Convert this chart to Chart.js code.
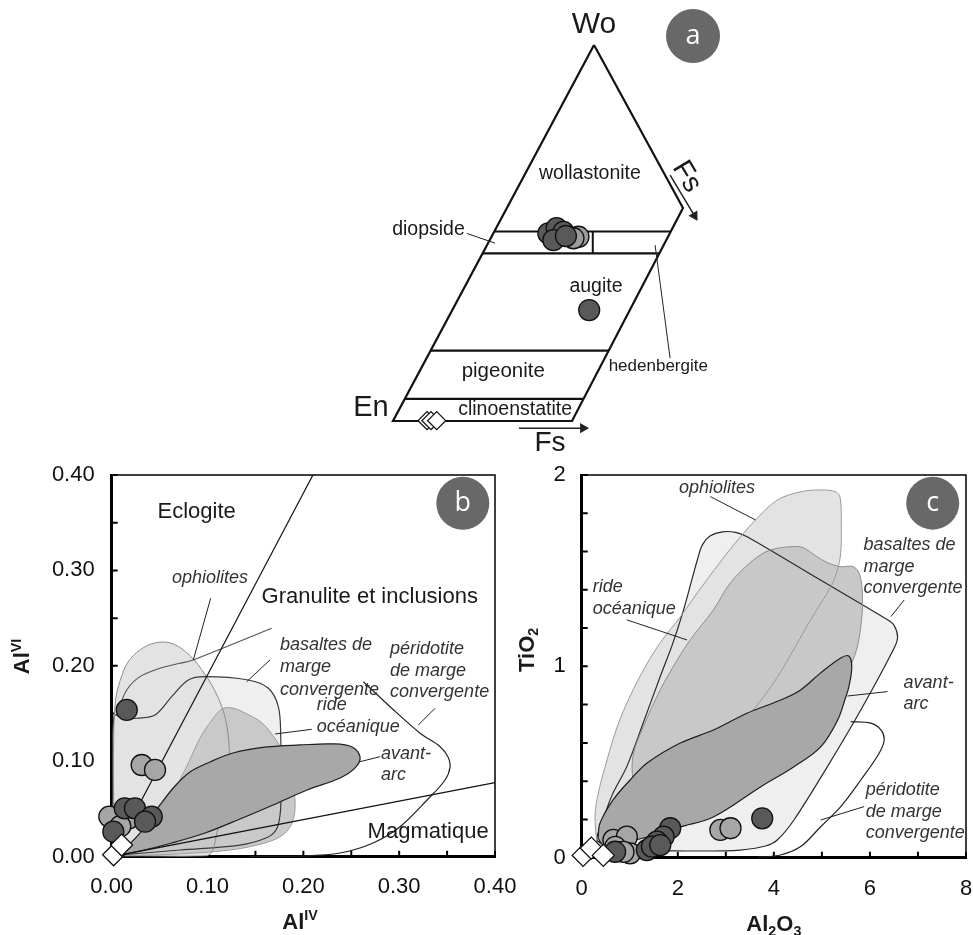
<!DOCTYPE html>
<html>
<head>
<meta charset="utf-8">
<script src="https://cdn.jsdelivr.net/npm/chart.js@4.4.1/dist/chart.umd.min.js"></script>
<style>
  html, body { margin: 0; padding: 0; background: #fff; }
  body { width: 973px; height: 935px; position: relative; overflow: hidden; }
  canvas { position: absolute; }
  #quadChart { left: 300px; top: 0; }
  #alChart { left: 0; top: 440px; }
  #tiChart { left: 510px; top: 440px; }
</style>
</head>
<body>
<canvas id="quadChart" width="460" height="465"></canvas>
<canvas id="alChart" width="520" height="495"></canvas>
<canvas id="tiChart" width="463" height="495"></canvas>
<script>
const FONT = '"Liberation Sans", Arial, Helvetica, sans-serif';
Chart.defaults.font.family = FONT;
Chart.defaults.color = '#111';

// ---------- (a) pyroxene quadrilateral, diagram units (En = 0,0 ; Wo apex at 100)
const quadOutline = [[56.15, 100], [0, 0], [50, 0], [81.0, 56.65], [56.15, 100]];
const boundaryWo = [50.4, 44.6, 18.7, 5.9];
const dividerX = 55.8;
const quadLight = [[51.8, 49.0], [50.4, 48.6]];
const quadDark = [[43.4, 49.9], [45.7, 51.3], [47.6, 50.3], [44.8, 48.1], [48.3, 49.2], [54.8, 29.5]];
const quadDiamonds = [[9.5, 0.1], [10.6, 0.1], [12.2, 0.1]];
const diopsideLeader = [[20.6, 49.9], [28.5, 47.3]];
const hedenbergiteLeader = [[77.4, 16.7], [73.2, 46.8]];
const fsArrowBottom = [[35.2, -1.9], [53.1, -1.9]];
const fsArrowSide = [[77.4, 65.4], [84.2, 54.6]];

// ---------- (b) AlVI vs AlIV
const ophioliteB = [[0.003, 0.001], [0.002, 0.060], [0.002, 0.122], [0.004, 0.164], [0.009, 0.185], [0.017, 0.204],
  [0.030, 0.217], [0.045, 0.224], [0.061, 0.224], [0.077, 0.215], [0.094, 0.196], [0.111, 0.167], [0.120, 0.138],
  [0.123, 0.101], [0.121, 0.065], [0.111, 0.030], [0.0995, 0.001]];
const basalteB = [[0.0014, 0.002], [0.001, 0.080], [0.0024, 0.1475], [0.0139, 0.1451], [0.0264, 0.1451], [0.0452, 0.1485],
  [0.0626, 0.1677], [0.080, 0.1852], [0.0974, 0.1887], [0.1426, 0.1852], [0.1635, 0.1765], [0.1739, 0.1572],
  [0.1764, 0.1258], [0.1767, 0.0699], [0.1757, 0.0437], [0.1715, 0.028], [0.161, 0.0196], [0.134, 0.0122],
  [0.0713, 0.007], [0.0087, 0.002]];
const rideB = [[0.0066, 0.001], [0.0222, 0.0144], [0.0504, 0.0437], [0.0765, 0.0909], [0.0922, 0.1244], [0.1047, 0.1433],
  [0.1151, 0.1548], [0.1256, 0.1559], [0.1391, 0.1506], [0.1569, 0.1401], [0.1715, 0.1223], [0.1809, 0.1045],
  [0.1872, 0.0825], [0.1913, 0.0594], [0.1893, 0.0385], [0.1799, 0.0238], [0.160, 0.0144], [0.1235, 0.007],
  [0.0713, 0.003], [0.019, 0.001]];
const avantArcB = [[0.0066, 0.0017], [0.0295, 0.0248], [0.0504, 0.0542], [0.0661, 0.0741], [0.0817, 0.0888],
  [0.1026, 0.0993], [0.1266, 0.1087], [0.1621, 0.115], [0.1966, 0.1171], [0.231, 0.1182], [0.2509, 0.115],
  [0.2592, 0.1045], [0.254, 0.093], [0.2383, 0.0825], [0.2039, 0.0699], [0.1684, 0.0542], [0.1339, 0.0395],
  [0.0974, 0.0248], [0.0629, 0.0144], [0.0295, 0.006]];
const peridotiteB = [[0.2626, 0.1834], [0.2905, 0.1572], [0.3218, 0.1294], [0.3427, 0.1153], [0.351, 0.1045],
  [0.3531, 0.094], [0.3479, 0.0804], [0.3291, 0.0594], [0.3009, 0.0314], [0.2728, 0.0144], [0.2383, 0.0039],
  [0.1966, 0.0007], [0.1444, 0.0002]];
const innerCurveB = [[0.0052, 0.1503], [0.0157, 0.1747], [0.0295, 0.1887], [0.0504, 0.1975], [0.0713, 0.2027],
  [0.0852, 0.2062], [0.167, 0.2394]];
const eclogiteLine = [[0, 0], [0.21, 0.40]];
const magmatiqueLine = [[0, 0], [0.40, 0.0776]];
const leadersB = [
  [[0.1033, 0.2709], [0.0852, 0.2062]],
  [[0.1652, 0.2062], [0.1409, 0.1834]],
  [[0.2088, 0.1335], [0.1705, 0.1286]],
  [[0.2801, 0.1048], [0.2592, 0.0996]],
  [[0.3375, 0.1556], [0.320, 0.138]]
];
const lightB = [[0.0313, 0.0961], [0.0452, 0.0909], [-0.0025, 0.042], [0.0174, 0.040], [0.009, 0.032]];
const darkB = [[0.0157, 0.1538], [0.0136, 0.0507], [0.0243, 0.0507], [0.0418, 0.042], [0.0348, 0.0367], [0.0017, 0.0262]];
const diamondsB = [[0.002, 0.002], [0.0104, 0.0122]];

// ---------- (c) TiO2 vs Al2O3
const basalteC = [[0.591, 0.056], [0.319, 0.092], [0.382, 0.155], [0.633, 0.327], [0.939, 0.476], [1.280, 0.704],
  [1.633, 0.946], [1.885, 1.112], [2.121, 1.295], [2.303, 1.462], [2.407, 1.556], [2.511, 1.635], [2.678, 1.682],
  [2.929, 1.703], [3.203, 1.700], [3.453, 1.676], [4.908, 1.460], [6.367, 1.243], [6.499, 1.216], [6.576, 1.155],
  [6.505, 1.096], [5.810, 0.772], [5.115, 0.476], [4.418, 0.197], [4.071, 0.0925], [3.827, 0.061], [3.305, 0.040],
  [2.470, 0.035], [1.426, 0.040]];
const ophioliteC = [[0.319, 0.066], [0.278, 0.223], [0.361, 0.354], [0.528, 0.511], [0.737, 0.683], [1.008, 0.845],
  [1.342, 1.007], [1.676, 1.138], [2.052, 1.258], [2.407, 1.384], [2.887, 1.546], [3.305, 1.677], [3.660, 1.776],
  [4.078, 1.870], [4.558, 1.912], [4.975, 1.922], [5.288, 1.912], [5.382, 1.880], [5.403, 1.729], [5.392, 1.594],
  [5.324, 1.505], [5.184, 1.416], [4.766, 1.243], [4.077, 0.945], [3.576, 0.772], [2.887, 0.563], [2.052, 0.354],
  [1.217, 0.171], [0.591, 0.077]];
const rideC = [[1.217, 0.302], [1.071, 0.407], [1.071, 0.537], [1.280, 0.683], [1.635, 0.877], [1.990, 1.034],
  [2.261, 1.139], [2.741, 1.295], [3.096, 1.436], [3.576, 1.556], [3.931, 1.608], [4.411, 1.626], [4.620, 1.619],
  [4.871, 1.577], [5.121, 1.541], [5.393, 1.521], [5.664, 1.520], [5.800, 1.468], [5.846, 1.347], [5.825, 1.243],
  [5.747, 1.112], [5.601, 1.007], [5.184, 0.824], [4.140, 0.668], [2.887, 0.511], [1.843, 0.380]];
const avantArcC = [[0.340, 0.103], [0.382, 0.181], [0.653, 0.302], [1.008, 0.406], [1.363, 0.495], [2.052, 0.599],
  [2.741, 0.667], [3.451, 0.756], [4.140, 0.824], [4.558, 0.877], [4.975, 0.966], [5.393, 1.044], [5.560, 1.054],
  [5.622, 0.997], [5.560, 0.892], [5.497, 0.840], [5.330, 0.720], [4.975, 0.579], [4.411, 0.474], [3.722, 0.370],
  [2.741, 0.213], [2.052, 0.161], [1.363, 0.108], [0.653, 0.066], [0.445, 0.066]];
const peridotiteC = [[5.601, 0.711], [6.019, 0.703], [6.228, 0.668], [6.297, 0.616], [6.192, 0.546], [5.810, 0.406],
  [5.393, 0.267], [4.975, 0.162], [4.558, 0.058], [4.140, 0.014], [3.660, 0.001]];
const leadersC = [
  [[2.678, 1.887], [3.618, 1.765]],
  [[0.939, 1.243], [2.192, 1.138]],
  [[6.714, 1.347], [6.436, 1.260]],
  [[6.367, 0.868], [5.532, 0.845]],
  [[5.879, 0.267], [4.975, 0.197]]
];
const lightC = [[2.887, 0.145], [3.098, 0.154], [0.66, 0.093], [0.94, 0.11], [1.008, 0.023], [0.70, 0.057], [0.87, 0.03]];
const darkC = [[3.758, 0.206], [1.843, 0.154], [1.704, 0.11], [1.566, 0.084], [1.357, 0.04], [1.461, 0.058], [0.695, 0.031], [1.635, 0.066]];
const diamondsC = [[0.03, 0.012], [0.2, 0.05], [0.45, 0.012]];

// ---------- helpers
const xy = pairs => pairs.map(([x, y]) => ({x, y}));
const closed = pairs => pairs.concat([pairs[0]]);

function path(pairs, color, width, extra) {
  return Object.assign({data: xy(pairs), showLine: true, fill: false, borderColor: color, borderWidth: width,
    pointRadius: 0, tension: 0}, extra);
}
function shape(pairs, color, order) {
  return {data: xy(closed(pairs)), showLine: true, fill: 'shape', backgroundColor: color, borderWidth: 0,
    pointRadius: 0, tension: 0.35, order};
}
function markers(pairs, style, radius, color, order) {
  return {data: xy(pairs), showLine: false, pointStyle: style, pointRadius: radius, pointBackgroundColor: color,
    pointBorderColor: '#111', pointBorderWidth: 1.3, clip: false, order};
}

function drawText(ctx, n) {
  const size = n.size || 18;
  const runs = Array.isArray(n.text) ? n.text : [[n.text, 0]];
  const fontFor = m => `${n.italic ? 'italic ' : ''}${n.bold ? 'bold ' : ''}${m ? size * 0.65 : size}px ${n.family || FONT}`;
  let width = 0;
  runs.forEach(([t, m]) => { ctx.font = fontFor(m); width += ctx.measureText(t).width; });
  let cx = n.align === 'left' ? 0 : -width / 2;
  ctx.fillStyle = n.color || '#1a1a1a';
  ctx.textBaseline = 'middle';
  ctx.textAlign = 'left';
  runs.forEach(([t, m]) => {
    ctx.font = fontFor(m);
    ctx.fillText(t, cx, m > 0 ? -size * 0.3 : m < 0 ? size * 0.3 : 0);
    cx += ctx.measureText(t).width;
  });
}

function notes(items) {
  return {
    id: 'notes',
    afterDatasetsDraw(chart) {
      const {ctx, scales: {x, y}} = chart;
      items.forEach(n => {
        ctx.save();
        ctx.translate(x.getPixelForValue(n.x), y.getPixelForValue(n.y));
        if (n.rotate) ctx.rotate(n.rotate * Math.PI / 180);
        if (n.badge) {
          ctx.beginPath();
          ctx.arc(0, 0, n.badge, 0, 2 * Math.PI);
          ctx.fillStyle = '#686868';
          ctx.fill();
        }
        drawText(ctx, n);
        ctx.restore();
      });
    }
  };
}

// frame box plus inward tick marks
const frameTicks = {
  id: 'frameTicks',
  beforeDatasetsDraw(chart) {
    const {ctx, chartArea: a, scales: {x, y}} = chart;
    ctx.save();
    ctx.strokeStyle = '#000';
    ctx.lineWidth = 1.5;
    ctx.strokeRect(a.left, a.top, a.right - a.left, a.bottom - a.top);
    ctx.lineWidth = 2;
    ctx.beginPath();
    x.ticks.forEach(t => { const p = x.getPixelForValue(t.value); ctx.moveTo(p, a.bottom); ctx.lineTo(p, a.bottom - 6); });
    y.ticks.forEach(t => { const p = y.getPixelForValue(t.value); ctx.moveTo(a.left, p); ctx.lineTo(a.left + 6, p); });
    ctx.stroke();
    ctx.restore();
  }
};

const isStep = (v, step) => Math.abs(v / step - Math.round(v / step)) < 1e-6;

// fixed axis thickness so the plot box lands where the figure has it
function fixX(h) { return s => { s.height = h; s.paddingLeft = 0; s.paddingRight = 0; }; }
function fixY(w) { return s => { s.width = w; s.paddingTop = 0; s.paddingBottom = 0; }; }

function axis(min, max, step, label, padding, fit) {
  return {
    type: 'linear', min, max,
    grid: {display: false, drawTicks: false},
    border: {display: true, width: 3, color: '#000'},
    ticks: {stepSize: step, autoSkip: false, maxRotation: 0, padding, color: '#111', font: {size: 22}, callback: label},
    afterFit: fit
  };
}

function baseOptions(scales, padding) {
  return {
    responsive: false, animation: false, events: [],
    layout: {autoPadding: false, padding},
    plugins: {legend: {display: false}, tooltip: {enabled: false}},
    scales
  };
}

// ---------- chart a
const leftEdgeAt = wo => quadOutline[0][0] * wo / quadOutline[0][1];
const rightEdgeAt = wo => quadOutline[2][0] + (quadOutline[3][0] - quadOutline[2][0]) * wo / quadOutline[3][1];

const quadSets = [path(quadOutline, '#111', 2.2, {order: 10})];
boundaryWo.forEach(wo => quadSets.push(path([[leftEdgeAt(wo), wo], [rightEdgeAt(wo), wo]], '#111', 2.2, {order: 10})));
quadSets.push(path([[dividerX, boundaryWo[0]], [dividerX, boundaryWo[1]]], '#111', 2, {order: 10}));
quadSets.push(path(diopsideLeader, '#222', 1, {order: 9}));
quadSets.push(path(hedenbergiteLeader, '#222', 1, {order: 9}));
quadSets.push(path(fsArrowBottom, '#222', 1.5, {order: 9, pointRadius: [0, 4.5], pointStyle: 'triangle',
  rotation: [0, 90], pointBackgroundColor: '#222', pointBorderColor: '#222'}));
quadSets.push(path(fsArrowSide, '#222', 1.5, {order: 9, pointRadius: [0, 4.5], pointStyle: 'triangle',
  rotation: [0, 149], pointBackgroundColor: '#222', pointBorderColor: '#222'}));
quadSets.push(markers(quadLight, 'circle', 10.5, '#9c9c9c', 3));
quadSets.push(markers(quadDark, 'circle', 10.5, '#595959', 2));
quadSets.push(markers(quadDiamonds, 'rectRot', 9, '#fff', 1));

new Chart(document.getElementById('quadChart'), {
  type: 'scatter',
  data: {datasets: quadSets},
  options: baseOptions({
    x: {type: 'linear', display: false, min: -25.98, max: 102.51},
    y: {type: 'linear', display: false, min: -11.70, max: 111.97}
  }, 0),
  plugins: [notes([
    {x: 56.15, y: 105.3, text: 'Wo', size: 30},
    {x: 83.8, y: 102.4, text: 'a', size: 27, badge: 27, color: '#fff', family: '"Open Sans", sans-serif'},
    {x: 55.0, y: 65.7, text: 'wollastonite', size: 19.5},
    {x: 9.9, y: 51.0, text: 'diopside', size: 19.5},
    {x: 56.7, y: 35.7, text: 'augite', size: 19.5},
    {x: 30.8, y: 13.1, text: 'pigeonite', size: 20.5},
    {x: 34.1, y: 3.1, text: 'clinoenstatite', size: 19.5},
    {x: 74.1, y: 14.6, text: 'hedenbergite', size: 17},
    {x: -6.15, y: 3.46, text: 'En', size: 29},
    {x: 43.85, y: -5.85, text: 'Fs', size: 28},
    {x: 82.0, y: 65.0, text: 'Fs', size: 28, rotate: 59}
  ])]
});

// ---------- chart b
const bSets = [
  shape(basalteB, '#efefef', 20),
  shape(ophioliteB, '#e3e3e4', 19),
  shape(rideB, '#c9c9ca', 18),
  path(closed(basalteB), '#3a3a3a', 1.2, {tension: 0.35, order: 17}),
  path(closed(ophioliteB), '#8d8d8d', 1, {tension: 0.35, order: 16}),
  path(closed(rideB), '#9d9d9d', 1, {tension: 0.35, order: 15}),
  path(innerCurveB, '#555', 1.1, {tension: 0.3, order: 14}),
  path(closed(avantArcB), '#1e1e1e', 1.2, {tension: 0.35, fill: 'shape', backgroundColor: '#a8a8a8', order: 13}),
  path(peridotiteB, '#222', 1.2, {tension: 0.35, order: 12}),
  path(eclogiteLine, '#111', 1.2, {order: 11}),
  path(magmatiqueLine, '#111', 1.2, {order: 10}),
  ...leadersB.map(l => path(l, '#222', 1, {order: 9})),
  markers(lightB, 'circle', 10.5, '#a6a6a6', 3),
  markers(darkB, 'circle', 10.5, '#595959', 2),
  markers(diamondsB, 'rectRot', 11, '#fff', 1)
];

new Chart(document.getElementById('alChart'), {
  type: 'scatter',
  data: {datasets: bSets},
  options: baseOptions({
    x: axis(0, 0.4, 0.05, v => isStep(v, 0.1) ? v.toFixed(2) : '', 17, fixX(78.3)),
    y: axis(0, 0.4, 0.05, v => isStep(v, 0.1) ? v.toFixed(2) : '', 17, fixY(111.7))
  }, {top: 35, right: 25, bottom: 0, left: 0}),
  plugins: [frameTicks, notes([
    {x: 0.0887, y: 0.3616, text: 'Eclogite', size: 22},
    {x: 0.2693, y: 0.2725, text: 'Granulite et inclusions', size: 22},
    {x: 0.3302, y: 0.0259, text: 'Magmatique', size: 22},
    {x: 0.1026, y: 0.2918, text: 'ophiolites', size: 18, italic: true, color: '#333'},
    {x: 0.1757, y: 0.2219, text: 'basaltes de', size: 18, italic: true, color: '#333', align: 'left'},
    {x: 0.1757, y: 0.1985, text: 'marge', size: 18, italic: true, color: '#333', align: 'left'},
    {x: 0.1757, y: 0.1747, text: 'convergente', size: 18, italic: true, color: '#333', align: 'left'},
    {x: 0.214, y: 0.159, text: 'ride', size: 18, italic: true, color: '#333', align: 'left'},
    {x: 0.214, y: 0.1363, text: 'océanique', size: 18, italic: true, color: '#333', align: 'left'},
    {x: 0.2905, y: 0.2174, text: 'péridotite', size: 18, italic: true, color: '#333', align: 'left'},
    {x: 0.2905, y: 0.195, text: 'de marge', size: 18, italic: true, color: '#333', align: 'left'},
    {x: 0.2905, y: 0.173, text: 'convergente', size: 18, italic: true, color: '#333', align: 'left'},
    {x: 0.2811, y: 0.1077, text: 'avant-', size: 18, italic: true, color: '#333', align: 'left'},
    {x: 0.2811, y: 0.0856, text: 'arc', size: 18, italic: true, color: '#333', align: 'left'},
    {x: 0.3664, y: 0.3704, text: 'b', size: 27, badge: 26.5, color: '#fff', family: '"Open Sans", sans-serif'},
    {x: -0.0923, y: 0.2098, text: [['Al', 0], ['VI', 1]], size: 22, bold: true, rotate: -90},
    {x: 0.1966, y: -0.0695, text: [['Al', 0], ['IV', 1]], size: 22, bold: true}
  ])]
});

// ---------- chart c
const cSets = [
  shape(basalteC, '#efefef', 20),
  shape(ophioliteC, '#e3e3e4', 19),
  shape(rideC, '#c8c8c9', 18),
  path(closed(basalteC), '#2a2a2a', 1.2, {tension: 0.3, order: 17}),
  path(closed(ophioliteC), '#9a9a9a', 1, {tension: 0.35, order: 16}),
  path(closed(rideC), '#8d8d8d', 1, {tension: 0.35, order: 15}),
  path(closed(avantArcC), '#1e1e1e', 1.2, {tension: 0.35, fill: 'shape', backgroundColor: '#a8a8a8', order: 13}),
  path(peridotiteC, '#222', 1.2, {tension: 0.35, order: 12}),
  ...leadersC.map(l => path(l, '#222', 1, {order: 9})),
  markers(lightC, 'circle', 10.5, '#a6a6a6', 3),
  markers(darkC, 'circle', 10.5, '#595959', 2),
  markers(diamondsC, 'rectRot', 11, '#fff', 1)
];

new Chart(document.getElementById('tiChart'), {
  type: 'scatter',
  data: {datasets: cSets},
  options: baseOptions({
    x: axis(0, 8, 1, v => isStep(v, 2) ? String(Math.round(v)) : '', 18, fixX(77.3)),
    y: axis(0, 2, 0.2, v => isStep(v, 1) ? String(Math.round(v)) : '', 16, fixY(71.7))
  }, {top: 35, right: 7, bottom: 0, left: 0}),
  plugins: [frameTicks, notes([
    {x: 2.818, y: 1.931, text: 'ophiolites', size: 18, italic: true, color: '#333'},
    {x: 5.866, y: 1.635, text: 'basaltes de', size: 18, italic: true, color: '#333', align: 'left'},
    {x: 5.866, y: 1.521, text: 'marge', size: 18, italic: true, color: '#333', align: 'left'},
    {x: 5.866, y: 1.408, text: 'convergente', size: 18, italic: true, color: '#333', align: 'left'},
    {x: 0.230, y: 1.417, text: 'ride', size: 18, italic: true, color: '#333', align: 'left'},
    {x: 0.230, y: 1.298, text: 'océanique', size: 18, italic: true, color: '#333', align: 'left'},
    {x: 6.701, y: 0.915, text: 'avant-', size: 18, italic: true, color: '#333', align: 'left'},
    {x: 6.701, y: 0.802, text: 'arc', size: 18, italic: true, color: '#333', align: 'left'},
    {x: 5.914, y: 0.354, text: 'péridotite', size: 18, italic: true, color: '#333', align: 'left'},
    {x: 5.914, y: 0.240, text: 'de marge', size: 18, italic: true, color: '#333', align: 'left'},
    {x: 5.914, y: 0.128, text: 'convergente', size: 18, italic: true, color: '#333', align: 'left'},
    {x: 7.307, y: 1.853, text: 'c', size: 27, badge: 26.5, color: '#fff', family: '"Open Sans", sans-serif'},
    {x: -1.121, y: 1.086, text: [['TiO', 0], ['2', -1]], size: 22, bold: true, rotate: -90},
    {x: 4.0, y: -0.352, text: [['Al', 0], ['2', -1], ['O', 0], ['3', -1]], size: 22, bold: true}
  ])]
});
</script>
</body>
</html>
